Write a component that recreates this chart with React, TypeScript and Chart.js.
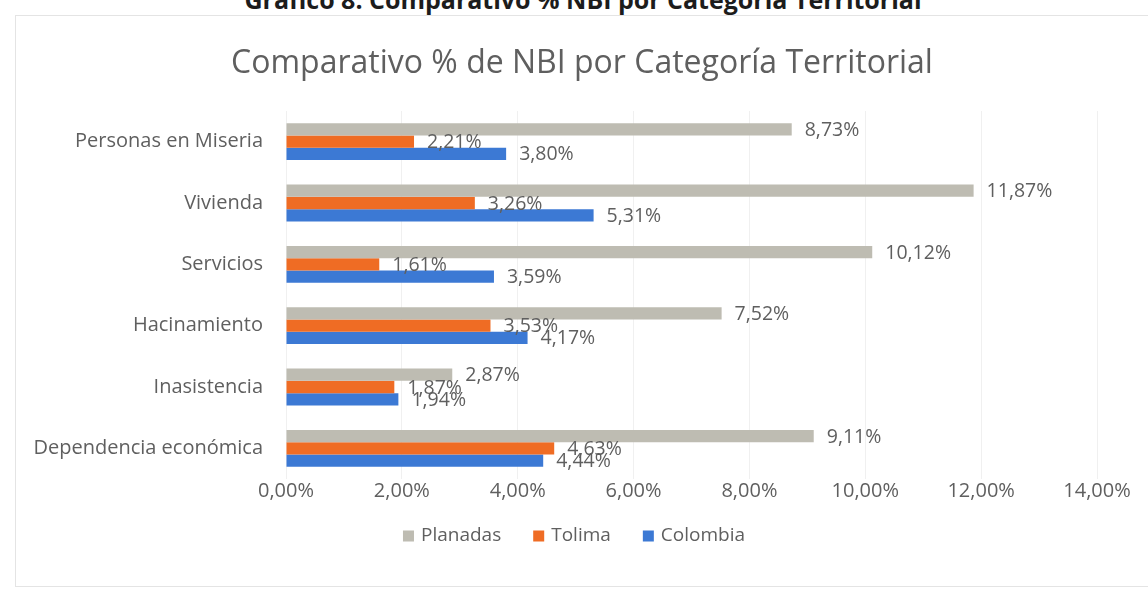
import React, { useEffect, useRef } from "react";
import { Chart, registerables } from "chart.js";

Chart.register(...registerables);

const categories = [
  "Personas en Miseria",
  "Vivienda",
  "Servicios",
  "Hacinamiento",
  "Inasistencia",
  "Dependencia económica",
];
const seriesNames = ["Planadas", "Tolima", "Colombia"];
const planadas = [8.73, 11.87, 10.12, 7.52, 2.87, 9.11];
const tolima = [2.21, 3.26, 1.61, 3.53, 1.87, 4.63];
const colombia = [3.8, 5.31, 3.59, 4.17, 1.94, 4.44];
const xMin = 0;
const xMax = 14;
const xStep = 2;

const heading = "Gráfico 8. Comparativo % NBI por Categoría Territorial";
const title = "Comparativo % de NBI por Categoría Territorial";

const COLORS = ["#BEBCB2", "#EF6C24", "#3C79D4"];
const TEXT = "#5f5f5f";
const FONT = "'Open Sans', 'DejaVu Sans', sans-serif";

const fmt = (v: number) => v.toFixed(2).replace(".", ",") + "%";

const labelPlugin = {
  id: "barLabels",
  afterDatasetsDraw(chart: any) {
    const ctx = chart.ctx;
    ctx.save();
    ctx.font = `19.5px ${FONT}`;
    ctx.fillStyle = TEXT;
    ctx.textAlign = "left";
    ctx.textBaseline = "middle";
    chart.data.datasets.forEach((ds: any, di: number) => {
      const meta = chart.getDatasetMeta(di);
      meta.data.forEach((bar: any, i: number) => {
        ctx.fillText(fmt(ds.data[i]), bar.x + 13, bar.y + 1);
      });
    });
    ctx.restore();
  },
};

const TITLE_X = 582;
const TITLE_Y = 64;
const LEGEND_X = 574;
const LEGEND_Y = 536;

const titleLegendPlugin = {
  id: "titleLegend",
  afterDraw(chart: any) {
    const ctx = chart.ctx;
    ctx.save();
    ctx.fillStyle = TEXT;
    ctx.textBaseline = "middle";
    ctx.textAlign = "center";
    ctx.font = `32px ${FONT}`;
    ctx.fillText(title, TITLE_X, TITLE_Y);

    // legend
    ctx.font = `19px ${FONT}`;
    ctx.textAlign = "left";
    const box = 11;
    const gapBoxText = 7;
    const gapItems = 32;
    const items = chart.data.datasets.map((ds: any) => ({
      label: ds.label,
      color: ds.backgroundColor,
      w: box + gapBoxText + ctx.measureText(ds.label).width,
    }));
    const total =
      items.reduce((a: number, it: any) => a + it.w, 0) +
      gapItems * (items.length - 1);
    let x = LEGEND_X - total / 2;
    items.forEach((it: any) => {
      ctx.fillStyle = it.color;
      ctx.fillRect(x, LEGEND_Y - box / 2, box, box);
      ctx.fillStyle = TEXT;
      ctx.fillText(it.label, x + box + gapBoxText, LEGEND_Y);
      x += it.w + gapItems;
    });
    ctx.restore();
  },
};

export default function App() {
  const ref = useRef<HTMLCanvasElement | null>(null);
  useEffect(() => {
    if (!ref.current) return;
    const data = [planadas, tolima, colombia];
    const chart = new Chart(ref.current, {
      type: "bar",
      data: {
        labels: categories,
        datasets: seriesNames.map((name, i) => ({
          label: name,
          data: data[i],
          backgroundColor: COLORS[i],
          borderWidth: 0,
          categoryPercentage: 0.6,
          barPercentage: 1.0,
        })),
      },
      options: {
        indexAxis: "y",
        responsive: false,
        animation: false,
        layout: { padding: { left: 0, right: 51, top: 111, bottom: 91 } },
        plugins: {
          title: { display: false },
          legend: { display: false },
          tooltip: { enabled: false },
        },
        scales: {
          x: {
            min: xMin,
            max: xMax,
            ticks: {
              stepSize: xStep,
              color: TEXT,
              font: { family: FONT, size: 20 },
              padding: 0,
              callback: (v: any) => fmt(Number(v)),
            },
            grid: { color: "#f0f0f0", drawTicks: false },
            border: { display: false },
            afterFit: (s: any) => {
              s.height = 26;
            },
          },
          y: {
            ticks: {
              color: TEXT,
              font: { family: FONT, size: 20 },
              padding: 23,
            },
            grid: { display: false, drawTicks: false },
            border: { display: false },
            afterFit: (s: any) => {
              s.width = 286;
            },
          },
        },
      },
      plugins: [labelPlugin, titleLegendPlugin],
    } as any);
    return () => chart.destroy();
  }, []);

  return (
    <div
      style={{
        position: "fixed",
        left: 0,
        top: 0,
        width: 1148,
        height: 596,
        background: "#fff",
        overflow: "hidden",
      }}
    >
      <div
        style={{
          position: "absolute",
          left: 15,
          top: 15,
          width: 1200,
          height: 570,
          border: "1px solid #e4e4e4",
        }}
      />
      <div
        style={{
          position: "absolute",
          left: 9,
          top: -15,
          width: 1148,
          textAlign: "center",
          fontFamily: FONT,
          fontWeight: 700,
          fontSize: 25,
          lineHeight: "28px",
          color: "#1c1c1c",
          whiteSpace: "nowrap",
        }}
      >
        {heading}
      </div>
      <canvas
        ref={ref}
        width={1148}
        height={596}
        style={{ position: "absolute", left: 0, top: 0 }}
      />
    </div>
  );
}
